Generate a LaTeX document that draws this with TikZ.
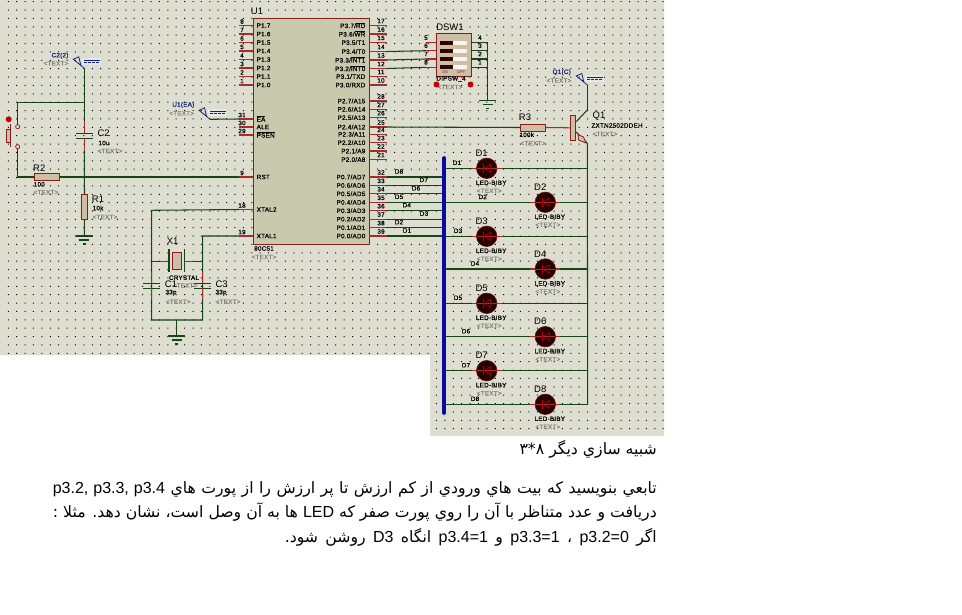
\documentclass[tikz,border=0pt]{standalone}
\usepackage{fontspec}
\setmainfont{Liberation Sans}
\newfontfamily\arabicfont[Script=Arabic]{DejaVu Sans}
\newfontfamily\ssf[FakeBold=0.6,LetterSpace=4]{Liberation Sans}
\TeXXeTstate=1
\definecolor{bgc}{HTML}{DDDECF}
\definecolor{icfill}{HTML}{C9C9AE}
\definecolor{tan}{HTML}{CDBFA3}
\definecolor{dred}{HTML}{8C1C1C}
\definecolor{pinred}{HTML}{A82A2A}
\definecolor{wire}{HTML}{184418}
\definecolor{gtext}{HTML}{85857C}
\definecolor{ptext}{HTML}{14227A}
\definecolor{busc}{HTML}{0A0AA0}
\definecolor{halo}{HTML}{E4E6EC}
\tikzset{
  lb/.style={inner sep=0pt,font=\ssf\fontsize{6.3}{6.3}\selectfont,text=black},
  ref/.style={inner sep=0pt,font=\fontsize{9.5}{9.5}\selectfont,text=black},
  gt/.style={inner sep=0pt,font=\ssf\fontsize{6.3}{6.3}\selectfont,text=gtext},
  pt/.style={inner sep=0pt,font=\ssf\fontsize{6.3}{6.3}\selectfont,text=ptext},
  wr/.style={draw=wire,line width=1.05pt},
  pin/.style={draw=pinred,line width=1.05pt},
  part/.style={draw=dred,line width=1pt,fill=tan},
  led/.style={circle,draw=dred!70!black,line width=0.6pt,fill=black!85!red,minimum size=20.5pt,inner sep=0pt},
  ptxt/.style={anchor=east,inner sep=0pt,font=\arabicfont\fontsize{15.7}{18}\selectfont},
}
\newcounter{tn}
\newcommand{\tl}[3][lb]{\stepcounter{tn}\node[#1] (t\thetn) at (#2) {#3};}
\newcommand{\ovl}[1]{\vbox{\hrule height 0.4pt\kern0.3pt\hbox{#1}}}
\newcommand{\lat}[1]{\beginL{\rmfamily\fontsize{16}{18}\selectfont #1}\endL{}}
\newcommand{\gnd}[3]{% name, x, y
  \coordinate (#1) at (#2,#3);
  \draw[wr] (#2-8.5,#3) -- (#2+8.5,#3);
  \draw[wr] (#2-5,#3+4) -- (#2+5,#3+4);
  \draw[wr] (#2-1.5,#3+8) -- (#2+1.5,#3+8);
}
\newcommand{\probe}[3]{% name, x, y (tip)
  \coordinate (#1) at (#2,#3);
  \fill[halo] (#2-2,#3-10) rectangle (#2+17,#3-3);
  \draw[ptext,line width=0.8pt] (#2-11,#3-9) -- (#2-5.5,#3-11.5) -- (#2-3.5,#3-3) -- cycle;
  \draw[ptext,line width=0.7pt] (#2-3.5,#3-3) -- (#2,#3);
  \draw[ptext,line width=0.9pt] (#2,#3-7.5) -- (#2+16,#3-7.5);
  \draw[ptext,line width=0.9pt,dash pattern=on 3pt off 1pt] (#2,#3-5.5) -- (#2+15,#3-5.5);
}
\newcommand{\capv}[3]{% name,x,yupper
  \draw[wr] (#2-8.5,#3) -- (#2+8.5,#3);
  \draw[wr] (#2-8.5,#3+5) -- (#2+8.5,#3+5);
  \draw[pin] (#2,#3-11) -- (#2,#3);
  \draw[pin] (#2,#3+5) -- (#2,#3+16);
  \coordinate (#1a) at (#2,#3-11);
  \coordinate (#1b) at (#2,#3+16);
}
\begin{document}
\begin{tikzpicture}[x=1pt,y=-1pt]
\useasboundingbox (0,0) rectangle (962,614);
\fill[white] (0,0) rectangle (962,614);
\fill[bgc] (0,0) -- (664,0) -- (664,436) -- (430,436) -- (430,355) -- (0,355) -- cycle;
\begin{scope}
\clip (0,0) -- (664,0) -- (664,436) -- (430,436) -- (430,355) -- (0,355) -- cycle;
\fill[black] foreach \i in {0,...,79} { foreach \j in {0,...,52} {
  ({8.3+8.396*\i-0.5},{1.7+8.372*\j-0.5}) rectangle +(1,1) } };
\end{scope}

% ---- U1
\node[draw=dred,line width=1.1pt,fill=icfill,minimum width=116.6pt,minimum height=226pt,inner sep=0pt,anchor=north west] (U1) at (252.7,18.3) {};
\tl[ref]{257,11}{U1}
\tl{264,248.5}{80C51}
\tl[gt]{264,257}{<TEXT>}
% left pins
\foreach \n/\y/\tx in {8/25.5/P1.7,7/34/P1.6,6/42.5/P1.5,5/51/P1.4,4/59.5/P1.3,3/68/P1.2,2/76.5/P1.1,1/85/P1.0,31/119/{\ovl{EA}},30/127/ALE,29/135/{\ovl{PSEN}},9/177/RST,18/209.5/XTAL2,19/236/XTAL1}{
  \coordinate (L\n) at (239,\y);
  \draw[pin] (L\n) -- (252.7,\y);
  \node[lb] (ln\n) at (242,\y-4) {\n};
  \node[lb,anchor=west] (lt\n) at (256.5,\y) {\tx};
}
% right pins
\foreach \n/\y/\tx in {17/25.5/{P3.7/\ovl{RD}},16/34/{P3.6/\ovl{WR}},15/42.5/{P3.5/T1},14/51.5/{P3.4/T0},13/60/{P3.3/\ovl{INT1}},12/68.5/{P3.2/\ovl{INT0}},11/76.5/{P3.1/TXD},10/85/{P3.0/RXD},
 28/101/{P2.7/A15},27/109.3/{P2.6/A14},26/117.6/{P2.5/A13},25/127/{P2.4/A12},24/134.3/{P2.3/A11},23/142.6/{P2.2/A10},22/151/{P2.1/A9},21/159.5/{P2.0/A8},
 32/177/{P0.7/AD7},33/185.4/{P0.6/AD6},34/193.8/{P0.5/AD5},35/202.3/{P0.4/AD4},36/210.7/{P0.3/AD3},37/219.1/{P0.2/AD2},38/227.6/{P0.1/AD1},39/236/{P0.0/AD0}}{
  \coordinate (R\n) at (387,\y);
  \draw[pin] (369.3,\y) -- (R\n);
  \node[lb] (rn\n) at (381,\y-4.5) {\n};
  \node[lb,anchor=east] (rt\n) at (365.5,\y) {\hbox{\tx}};
}

% ---- DSW1
\node[part,minimum width=34.7pt,minimum height=42.7pt,inner sep=0pt,anchor=north west] (DSW) at (436,33) {};
\tl[ref]{450,27.7}{DSW1}
\foreach \k/\y/\a/\b in {1/42.7/5/4,2/50.7/6/3,3/59/7/2,4/67.3/8/1}{
  \coordinate (SL\k) at (426,\y);
  \coordinate (SR\k) at (487.7,\y);
  \draw[pin] (SL\k) -- (436,\y);
  \draw[wr] (470.7,\y) -- (SR\k);
  \fill[white!85!tan] (440,\y-2) rectangle (466.7,\y+2);
  \fill[black!80!red] (440,\y-2) rectangle (453,\y+2);
  \node[lb] (sa\k) at (426,\y-5) {\a};
  \node[lb] (sb\k) at (480,\y-5) {\b};
}
\node[inner sep=0pt,font=\fontsize{4}{4}\selectfont,text=dred] (son) at (445,72.3) {ON};
\node[inner sep=0pt,font=\fontsize{4}{4}\selectfont,text=dred] (sof) at (461,72.3) {OFF};
\tl{451,79}{DIPSW\_4}
\tl[gt]{450,87}{<TEXT>}
\fill[red!75!black] (436.5,84.5) circle (3);
\fill[red!75!black] (470.5,84.5) circle (3);
\gnd{G1}{487.7}{100.5}
\draw[wr] (SR1) -- (G1);
\draw[wr] (R14) -- (SL2);
\draw[wr] (R13) -- (SL3);
\draw[wr] (R12) -- (SL4);

% ---- Q1 / R3
\node[part,minimum width=25.4pt,minimum height=7pt,inner sep=0pt] (R3) at (533,127.5) {};
\node[part,minimum width=5.4pt,minimum height=25pt,inner sep=0pt] (QB) at (573,127.8) {};
\draw[wr] (R25) -- (R3.west);
\draw[pin] (R3.east) -- (QB.west);
\coordinate (QC) at (587.3,110);
\coordinate (QE) at (587.3,143.3);
\draw[wr] (576.2,121.7) -- (QC);
\draw[wr] (576.2,132) -- (QE);
\draw[dred,line width=0.8pt,fill=tan] (578,134.5) -- (583.5,137) -- (586,143) -- (578.5,140) -- cycle;
\probe{PQ}{587.3}{85}
\draw[wr] (PQ) -- (QC);
\tl[ref]{525,117.5}{R3}
\tl{526.7,134.7}{100k}
\tl[gt]{533,143.3}{<TEXT>}
\tl[ref]{599,116.5}{Q1}
\tl{617,125.5}{ZXTN2502DDEH}
\tl[gt]{605,134}{<TEXT>}
\tl[pt]{561.7,72.3}{Q1(C)}
\tl[gt]{559,80.5}{<TEXT>}

% ---- Bus and LEDs
\coordinate (BT) at (444.3,158);
\coordinate (BB) at (444.3,413);
\coordinate (RL) at (587.7,404.3);
\draw[wr] (QE) -- (RL);
\foreach \k/\x/\y/\nx in {1/486.7/168.3/457,2/545.3/202.3/482.7,3/486.7/236.3/458,4/545.3/269/475,5/486.7/303.3/458,6/545.3/336.7/466,7/486.7/370.7/466,8/545.3/404.3/475}{
  \coordinate (B\k) at (444.3,\y);
  \coordinate (RR\k) at (587.7,\y);
  \draw[wr] (B\k) -- (\x-15,\y);
  \draw[wr] (\x+15,\y) -- (RR\k);
  \draw[pin] (\x-15,\y) -- (\x+15,\y);
  \node[led] (D\k) at (\x,\y) {};
  \draw[pinred,line width=0.7pt] (\x-10,\y) -- (\x+10,\y);
  \draw[red!70!black,line width=0.7pt] (\x+4,\y-4) -- (\x-3,\y) -- (\x+4,\y+4) -- cycle;
  \draw[red!70!black,line width=0.7pt] (\x-3,\y-4.5) -- (\x-3,\y+4.5);
  \node[ref] (Dl\k) at (\x-5,\y-15) {D\k};
  \node[lb] (Dm\k) at (\x+4.5,\y+14.4) {LED-BIBY};
  \node[gt] (Dt\k) at (\x+2.5,\y+22.5) {<TEXT>};
  \node[lb] (Dn\k) at (\nx,\y-5.5) {D\k};
}
\draw[busc,line width=3.8pt,line cap=round] (BT) -- (BB);
\foreach \p/\y/\x/\tx in {32/177/399/D8,33/185.4/423.7/D7,34/193.8/416/D6,35/202.3/399/D5,36/210.7/406.7/D4,37/219.1/424/D3,38/227.6/399/D2,39/236/407/D1}{
  \coordinate (BP\p) at (442.4,\y);
  \draw[wr] (R\p) -- (BP\p);
  \node[lb] (pn\p) at (\x,\y-5.5) {\tx};
}

% ---- Reset network
\probe{PC}{84.3}{68.3}
\tl[pt]{60,55.7}{C2(2)}
\tl[gt]{56,63.3}{<TEXT>}
\probe{PE}{210}{119.3}
\tl[pt]{183.3,105}{U1(EA)}
\tl[gt]{181.7,113.3}{<TEXT>}
\draw[wr] (PE) -- (L31);
\capv{C2}{84.3}{133.3}
\node[part,minimum width=5.6pt,minimum height=25pt,inner sep=0pt] (R1) at (84.5,206.8) {};
\node[part,minimum width=25.4pt,minimum height=7.4pt,inner sep=0pt] (R2) at (47,177) {};
\gnd{G2}{84.3}{236}
\coordinate (J2) at (84.3,102.3);
\coordinate (S1) at (17.7,126.7);
\coordinate (S2) at (17.7,146.7);
\draw[wr] (PC) -- (C2a);
\draw[wr] (C2b) -- (R1.north);
\draw[wr] (R1.south) -- (G2);
\draw[wr] (J2) -| (S1);
\draw[wr] (S2) |- (R2.west);
\draw[wr] (R2.east) -- (L9);
\draw[pin] (L9) -- (252.7,177);
\draw[dred,line width=0.7pt,fill=bgc] (S1) circle (2.1);
\draw[dred,line width=0.7pt,fill=bgc] (S2) circle (2.1);
\draw[dred,line width=0.8pt] (10,124) -- (10,147);
\node[part,minimum width=4.7pt,minimum height=13.4pt,inner sep=0pt] (SW) at (8.4,136) {};
\fill[red!75!black] (8.7,119.3) circle (3);
\tl[ref]{103.7,133.7}{C2}
\tl{104,143}{10u}
\tl[gt]{110,151}{<TEXT>}
\tl[ref]{39.3,167.7}{R2}
\tl{39.3,184.3}{100}
\tl[gt]{46,192.3}{<TEXT>}
\tl[ref]{98,199.3}{R1}
\tl{98,208}{10k}
\tl[gt]{105,217}{<TEXT>}

% ---- Crystal
\coordinate (XL) at (151.7,210.3);
\coordinate (XR) at (202.7,236);
\coordinate (XBL) at (151.7,320);
\coordinate (XBR) at (202.7,320);
\coordinate (XG) at (176.7,320);
\draw[wr] (L18) -- (XL) -- (XBL) -- (XBR) -- (XR) -- (L19);
\capv{C1}{151.7}{283.3}
\capv{C3}{202.7}{283.3}
\node[part,minimum width=9pt,minimum height=17pt,inner sep=0pt] (X1) at (177.2,260.8) {};
\draw[wr] (151.7,261.3) -- (160,261.3);
\draw[wr] (194,261.3) -- (202.7,261.3);
\draw[pin] (160,261.3) -- (169,261.3);
\draw[pin] (184.3,261.3) -- (194,261.3);
\draw[wr] (169,249) -- (169,271.7);
\draw[wr] (184.8,249) -- (184.8,271.7);
\gnd{G3}{176.7}{336}
\draw[wr] (XG) -- (G3);
\tl[ref]{172.7,241.3}{X1}
\tl{184,277.7}{CRYSTAL}
\tl[gt]{185,285.5}{<TEXT>}
\tl[ref]{171,284}{C1}
\tl{171,292.7}{33p}
\tl[gt]{178.3,301.7}{<TEXT>}
\tl[ref]{221.7,284}{C3}
\tl{221,292.7}{33p}
\tl[gt]{228,301.7}{<TEXT>}

% ---- Persian text
\node[ptxt] (h) at (657,449) {\beginR شبيه سازي ديگر ۸*۳\endR};
\node[ptxt] (l1) at (657,489) {\hbox to 604pt{\beginR تابعي بنويسيد كه بيت هاي ورودي از كم ارزش تا پر ارزش را از پورت هاي \lat{p3.2, p3.3, p3.4}\endR}};
\node[ptxt] (l2) at (657,512) {\beginR دريافت و عدد متناظر با آن را روي پورت صفر كه \lat{LED} ها به آن وصل است، نشان دهد. مثلا :\endR};
\node[ptxt] (l3) at (657,537) {\hbox to 372pt{\beginR اگر \lat{p3.2=0} ، \lat{p3.3=1} و \lat{p3.4=1} انگاه \lat{D3} روشن شود.\endR}};
\end{tikzpicture}
\end{document}
